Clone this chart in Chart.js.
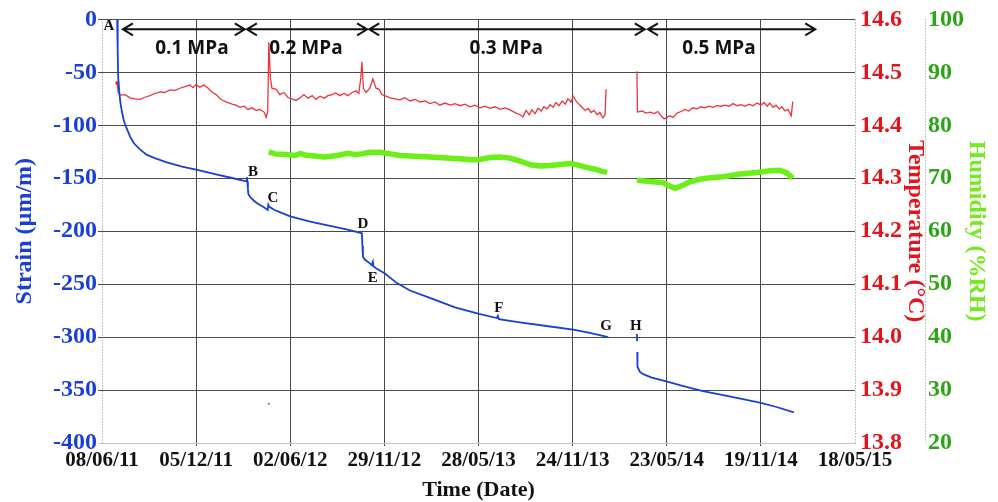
<!DOCTYPE html>
<html>
<head>
<meta charset="utf-8">
<script src="https://cdn.jsdelivr.net/npm/chart.js@4.4.1/dist/chart.umd.min.js"></script>
<style>
  html, body { margin: 0; padding: 0; background: #ffffff; }
  #wrap { width: 998px; height: 502px; position: relative; }
</style>
</head>
<body>
<div id="wrap"><canvas id="chart" width="998" height="502"></canvas></div>
<script>
// Time axis: days elapsed since 08/06/11, labelled every 180 days
const tickDates = ['08/06/11', '05/12/11', '02/06/12', '29/11/12', '28/05/13', '24/11/13', '23/05/14', '19/11/14', '18/05/15'];

// Strain (µm/m); null marks a break in the record
const strainDays = [
  29, 30, 31, 33, 35, 38, 41, 44, 49, 54, 61, 73, 86, 101, 124, 153, 182, 216, 251, 276,
  277, 278, 279, 280, 284, 290, 298, 308, 317, 318, 320, 330, 340, 360, 398, 436, 474, 497,
  498, 499, 503, 509, 516, 518, 519, 524, 541, 564, 589, 627, 675, 721, 755, 757, 759, 799,
  857, 901, 933, 968,
  990,
  1023, 1023.3,
  1023.4,
  1023.6, 1024, 1029, 1035, 1050, 1081, 1110, 1149, 1200, 1260, 1290, 1323
];
const strainValues = [
  0, -30, -55, -68, -78, -87, -94, -99, -105, -111, -117, -123, -128, -131, -135, -139, -142, -146, -150, -153,
  -149, -153, -160, -165, -168, -171, -174, -177, -180, -175, -177, -180, -182, -186, -191, -195, -199, -202,
  -214, -224, -227, -229, -232, -229, -233, -235, -240, -249, -256, -263, -272, -278, -282, -280, -283, -286,
  -290, -293, -296, -300,
  null,
  -297, -304,
  null,
  -314, -328, -333, -335, -338, -342, -346, -351, -356, -362, -366, -371
];

// Isolated strain reading
const strainOutlierDays = [319];
const strainOutlierValues = [-363];

// Temperature (°C)
const tempDays = [
  29, 31, 34, 44, 54, 63, 73, 82, 92, 101, 111, 120, 130, 140, 149, 159, 168, 174, 180, 187,
  195, 203, 210, 218, 226, 233, 241, 249, 256, 264, 272, 279, 287, 295, 302, 310, 314, 317, 319, 322,
  325, 333, 340, 348, 356, 363, 371, 379, 386, 394, 402, 409, 417, 425, 432, 440, 447, 455, 463, 470,
  478, 486, 491, 495, 497, 500, 505, 512, 518, 524, 530, 535, 543, 551, 560, 570, 579, 589, 599, 608,
  618, 627, 637, 646, 656, 666, 675, 685, 694, 704, 713, 723, 732, 742, 752, 761, 771, 780, 790, 799,
  805, 811, 817, 822, 828, 834, 840, 845, 851, 857, 863, 868, 874, 880, 886, 891, 897, 901, 907, 912,
  918, 924, 930, 935, 941, 947, 952, 958, 962, 964,
  990,
  1023, 1024, 1033, 1040, 1048, 1056, 1063, 1069, 1075, 1081, 1086, 1092, 1100, 1107, 1115, 1122, 1130, 1138, 1145,
  1153, 1161, 1168, 1176, 1184, 1191, 1199, 1207, 1214, 1222, 1230, 1237, 1245, 1253, 1260, 1266, 1272, 1277, 1283,
  1289, 1295, 1300, 1306, 1312, 1318, 1321
];
const tempValues = [
  14.480, 14.462, 14.457, 14.458, 14.452, 14.450, 14.449, 14.453, 14.456, 14.460, 14.463, 14.462, 14.467, 14.466, 14.470, 14.473, 14.476, 14.471, 14.477, 14.472,
  14.476, 14.470, 14.463, 14.458, 14.450, 14.446, 14.443, 14.440, 14.438, 14.434, 14.436, 14.430, 14.433, 14.428, 14.430, 14.425, 14.415, 14.427, 14.557, 14.490,
  14.470, 14.468, 14.458, 14.462, 14.452, 14.450, 14.447, 14.452, 14.458, 14.451, 14.456, 14.449, 14.455, 14.451, 14.456, 14.458, 14.461, 14.456, 14.460, 14.456,
  14.462, 14.465, 14.460, 14.490, 14.520, 14.470, 14.462, 14.470, 14.488, 14.470, 14.468, 14.458, 14.455, 14.452, 14.450, 14.448, 14.452, 14.446, 14.449, 14.444,
  14.446, 14.441, 14.444, 14.438, 14.442, 14.438, 14.441, 14.437, 14.440, 14.435, 14.438, 14.433, 14.436, 14.432, 14.435, 14.430, 14.433, 14.429, 14.424, 14.420,
  14.416, 14.428, 14.420, 14.429, 14.422, 14.432, 14.427, 14.435, 14.431, 14.439, 14.434, 14.443, 14.437, 14.446, 14.440, 14.450, 14.444, 14.455, 14.445, 14.440,
  14.434, 14.428, 14.432, 14.424, 14.428, 14.420, 14.424, 14.414, 14.420, 14.468,
  null,
  14.502, 14.425, 14.427, 14.423, 14.425, 14.422, 14.426, 14.418, 14.412, 14.415, 14.418, 14.415, 14.423, 14.426, 14.430, 14.427, 14.433, 14.431, 14.435,
  14.433, 14.436, 14.434, 14.437, 14.436, 14.438, 14.436, 14.441, 14.437, 14.439, 14.436, 14.440, 14.437, 14.442, 14.438, 14.443, 14.436, 14.442, 14.434,
  14.438, 14.431, 14.435, 14.427, 14.430, 14.418, 14.445
];

// Relative humidity (%RH)
const humDays = [
  319, 331, 350, 369, 379, 388, 407, 426, 442, 455, 469, 484, 497, 512, 532, 551, 570, 589, 608, 627,
  646, 666, 685, 704, 719, 742, 761, 780, 794, 809, 822, 838, 857, 876, 895, 910, 924, 943, 956, 966,
  990,
  1023, 1038, 1058, 1073, 1084, 1096, 1109, 1124, 1143, 1163, 1188, 1220, 1253, 1277, 1296, 1310, 1321
];
const humValues = [
  75.0, 74.6, 74.5, 74.3, 74.7, 74.4, 74.2, 74.0, 74.2, 74.4, 74.7, 74.5, 74.6, 74.9, 74.9, 74.6, 74.3, 74.2, 74.1, 74.0,
  73.9, 73.8, 73.7, 73.5, 73.5, 73.9, 74.0, 73.8, 73.4, 72.9, 72.5, 72.3, 72.4, 72.6, 72.8, 72.5, 72.1, 71.7, 71.3, 71.1,
  null,
  69.6, 69.5, 69.3, 69.2, 68.6, 68.1, 68.6, 69.3, 69.8, 70.1, 70.3, 70.8, 71.1, 71.4, 71.5, 71.0, 70.0
];

// Loading stages drawn as double-headed arrows along the top of the plot
const stageNames = ['0.1 MPa', '0.2 MPa', '0.3 MPa', '0.5 MPa'];
const stageStartDays = [40, 277, 511, 1044];
const stageEndDays = [273, 507, 1038, 1364];
const stageLabelDays = [172, 390, 773, 1180];

// Event markers along the strain curve
const markerNames = ['A', 'B', 'C', 'D', 'E', 'F', 'G', 'H'];
const markerDays = [13, 289, 327, 499, 518, 759, 964, 1021];
const markerStrain = [-6.6, -144, -169, -193, -244, -273, -290, -290];

const toPoints = (xs, ys) => xs.map((x, i) => ({ x: x, y: ys[i] }));

const SERIF = '"Liberation Serif", "Times New Roman", serif';
const BLUE = '#1b3fd2';
const RED = '#e2141c';
const GREEN_TICK = '#2aa514';
const GREEN_TITLE = '#74ea1e';

// Dotted axis lines with small minor ticks for the three value axes
const dottedAxes = {
  id: 'dottedAxes',
  afterDraw(chart) {
    const { ctx, chartArea } = chart;
    const lines = [
      { x: chart.scales.yStrain.right, dir: 1 },
      { x: chart.scales.yTemp.left, dir: -1 },
      { x: chart.scales.yHum.left, dir: -1 }
    ];
    ctx.save();
    ctx.strokeStyle = '#8c8c8c';
    ctx.lineWidth = 1;
    lines.forEach((l) => {
      const x = Math.round(l.x) + 0.5;
      ctx.setLineDash([1, 2]);
      ctx.beginPath();
      ctx.moveTo(x, chartArea.top);
      ctx.lineTo(x, chartArea.bottom);
      ctx.stroke();
    });
    ctx.restore();
  }
};

const annotations = {
  id: 'annotations',
  afterDatasetsDraw(chart) {
    const { ctx } = chart;
    const xs = chart.scales.x;
    const ys = chart.scales.yStrain;
    ctx.save();
    // stage arrows
    ctx.strokeStyle = '#111111';
    ctx.lineWidth = 2;
    ctx.lineJoin = 'miter';
    const ay = ys.getPixelForValue(-9.4);
    stageNames.forEach((name, i) => {
      const x1 = xs.getPixelForValue(stageStartDays[i]);
      const x2 = xs.getPixelForValue(stageEndDays[i]);
      ctx.beginPath();
      ctx.moveTo(x1, ay); ctx.lineTo(x2, ay);
      ctx.moveTo(x1 + 10, ay - 6); ctx.lineTo(x1, ay); ctx.lineTo(x1 + 10, ay + 6);
      ctx.moveTo(x2 - 10, ay - 6); ctx.lineTo(x2, ay); ctx.lineTo(x2 - 10, ay + 6);
      ctx.stroke();
    });
    // stage names
    ctx.fillStyle = '#111111';
    ctx.font = 'bold 19px "Open Sans", sans-serif';
    ctx.textAlign = 'center';
    ctx.textBaseline = 'middle';
    const ly = ys.getPixelForValue(-27.4);
    stageNames.forEach((name, i) => {
      ctx.fillText(name, xs.getPixelForValue(stageLabelDays[i]), ly);
    });
    // event letters
    ctx.font = 'bold 15px ' + SERIF;
    markerNames.forEach((m, i) => {
      ctx.fillText(m, xs.getPixelForValue(markerDays[i]), ys.getPixelForValue(markerStrain[i]));
    });
    ctx.restore();
  }
};

new Chart(document.getElementById('chart'), {
  type: 'line',
  data: {
    datasets: [
      {
        label: 'Humidity',
        data: toPoints(humDays, humValues),
        yAxisID: 'yHum',
        borderColor: '#6cee18',
        borderWidth: 5.5,
        pointRadius: 0,
        tension: 0,
        spanGaps: false,
        order: 3
      },
      {
        label: 'Temperature',
        data: toPoints(tempDays, tempValues),
        yAxisID: 'yTemp',
        borderColor: '#e8353c',
        borderWidth: 1.3,
        pointRadius: (c) => (c.dataIndex === 0 ? 2 : 0),
        pointBackgroundColor: '#e8353c',
        pointBorderWidth: 0,
        tension: 0,
        spanGaps: false,
        order: 2
      },
      {
        label: 'Strain',
        data: toPoints(strainDays, strainValues),
        yAxisID: 'yStrain',
        borderColor: '#1b3fd2',
        borderWidth: 1.8,
        pointRadius: 0,
        tension: 0,
        spanGaps: false,
        order: 1
      },
      {
        label: 'Strain outlier',
        data: toPoints(strainOutlierDays, strainOutlierValues),
        yAxisID: 'yStrain',
        showLine: false,
        pointRadius: 1,
        pointBackgroundColor: '#666677',
        pointBorderWidth: 0,
        order: 0
      }
    ]
  },
  options: {
    responsive: false,
    devicePixelRatio: 1,
    animation: false,
    layout: { padding: { top: 19, left: 0, right: 0, bottom: 0 } },
    plugins: {
      legend: { display: false },
      tooltip: { enabled: false }
    },
    scales: {
      x: {
        type: 'linear',
        position: 'bottom',
        min: 0,
        max: 1440,
        afterFit: (s) => { s.height = 59; },
        ticks: {
          stepSize: 180,
          autoSkip: false,
          maxRotation: 0,
          padding: 2,
          color: '#111111',
          font: { family: SERIF, size: 21, weight: 'bold' },
          callback: (v) => tickDates[Math.round(v / 180)]
        },
        grid: {
          color: (c) => (c.tick && (c.tick.value === 0 || c.tick.value === 1440)) ? 'rgba(0,0,0,0)' : '#4a4a4a',
          lineWidth: 1,
          drawTicks: true,
          tickLength: 3
        },
        border: { display: true, color: '#c4c4c4', width: 1 },
        title: {
          display: true,
          text: 'Time (Date)',
          color: '#111111',
          font: { family: SERIF, size: 22, weight: 'bold', lineHeight: 1.1 },
          padding: { top: 0, bottom: 0 }
        }
      },
      yStrain: {
        type: 'linear',
        position: 'left',
        min: -400,
        max: 0,
        afterFit: (s) => { s.width = 102; },
        ticks: {
          stepSize: 50,
          padding: 1,
          color: BLUE,
          font: { family: SERIF, size: 24, weight: 'bold' }
        },
        grid: {
          color: (c) => (c.tick && c.tick.value === -400) ? '#c4c4c4' : '#4a4a4a',
          lineWidth: 1,
          drawTicks: true,
          tickLength: 4
        },
        border: { display: false },
        title: {
          display: true,
          text: 'Strain (µm/m)',
          color: BLUE,
          font: { family: SERIF, size: 24, weight: 'bold', lineHeight: 1.2 },
          padding: { top: 10, bottom: 0 }
        }
      },
      yTemp: {
        type: 'linear',
        position: 'right',
        weight: 0,
        min: 13.8,
        max: 14.6,
        afterFit: (s) => { s.width = 70; },
        ticks: {
          stepSize: 0.1,
          padding: 5,
          color: RED,
          font: { family: SERIF, size: 24, weight: 'bold' },
          callback: (v) => Number(v).toFixed(1)
        },
        grid: { display: false, drawTicks: false },
        border: { display: false },
        title: {
          display: true,
          text: 'Temperature (°C)',
          color: RED,
          font: { family: SERIF, size: 24, weight: 'bold', lineHeight: 0.8333 },
          padding: { top: 0, bottom: 0 }
        }
      },
      yHum: {
        type: 'linear',
        position: 'right',
        weight: 1,
        min: 20,
        max: 100,
        afterFit: (s) => { s.width = 73; },
        ticks: {
          stepSize: 10,
          padding: 3,
          color: GREEN_TICK,
          font: { family: SERIF, size: 24, weight: 'bold' }
        },
        grid: { display: false, drawTicks: false },
        border: { display: false },
        title: {
          display: true,
          text: 'Humidity (%RH)',
          color: GREEN_TITLE,
          font: { family: SERIF, size: 24, weight: 'bold', lineHeight: 1.2 },
          padding: { top: 7, bottom: 0 }
        }
      }
    }
  },
  plugins: [annotations, dottedAxes]
});
</script>
</body>
</html>
